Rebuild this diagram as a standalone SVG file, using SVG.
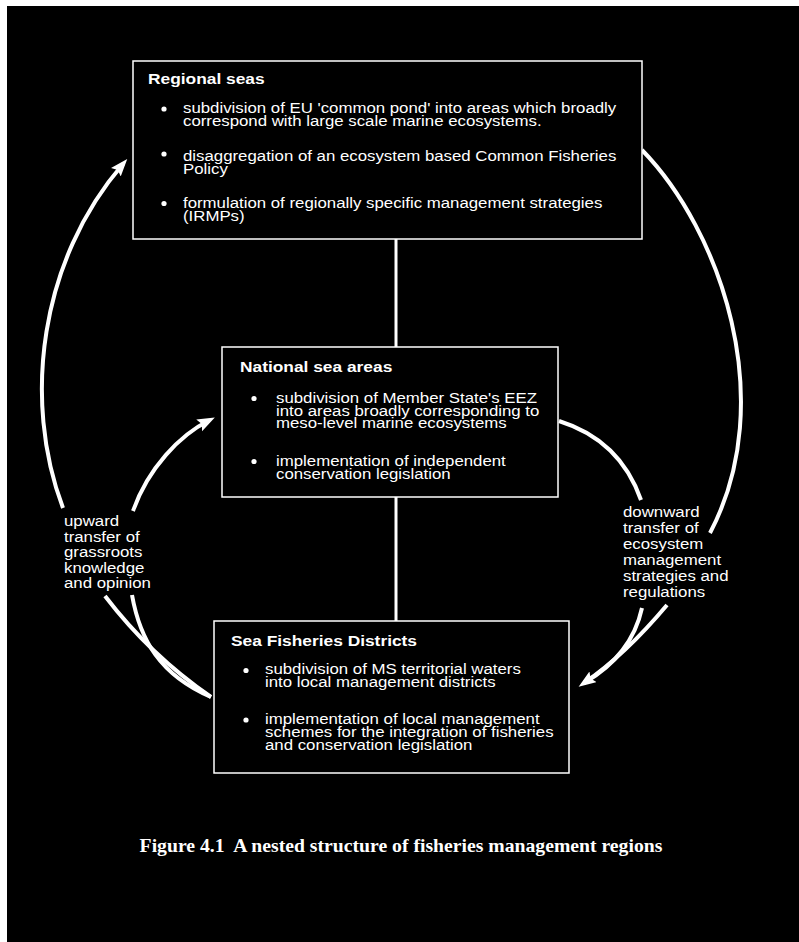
<svg xmlns="http://www.w3.org/2000/svg" width="799" height="942" viewBox="0 0 799 942">
<style>
.box{fill:#000;stroke:#fff;stroke-width:1.5}
.t{fill:#fff;font-family:"Liberation Sans",Arial,Helvetica,sans-serif;font-size:15.5px}
.h{fill:#fff;font-family:"Liberation Sans",Arial,Helvetica,sans-serif;font-size:15.5px;font-weight:bold}
.dot{fill:#fff}
.arc{fill:none;stroke:#fff;stroke-width:4}
.ln{stroke:#fff;stroke-width:3}
.cap{fill:#fff;font-family:"Liberation Serif","Times New Roman",serif;font-size:19.7px;font-weight:bold}
</style>
<defs>
<marker id="ah" markerUnits="userSpaceOnUse" markerWidth="20" markerHeight="14" refX="11" refY="6.5" orient="auto">
<path d="M0,0 L17.5,6.5 L0,13 L3,6.5 Z" fill="#fff"/>
</marker>
</defs>
<rect x="0" y="0" width="799" height="942" fill="#fff"/>
<rect x="7" y="6" width="792" height="936" fill="#000"/>

<g id="connectors">
<line class="ln" x1="396" y1="239" x2="396" y2="347"/>
<line class="ln" x1="396" y1="497" x2="396" y2="621"/>
<path class="arc" d="M63,508 C22,400 40,260 123,164" marker-end="url(#ah)"/>
<path class="arc" d="M105,596 Q150,655 211,697"/>
<path class="arc" d="M133,511 C148,468 180,435 209,420.5" marker-end="url(#ah)"/>
<path class="arc" d="M132,595 C140,640 160,675 211,697"/>
<path class="arc" d="M642,150 C720,230 780,400 710,533"/>
<path class="arc" d="M559,421 Q620,440 641,500"/>
<path class="arc" d="M642,608 C635,640 615,665 584,683"/>
<path class="arc" d="M667,605 Q625,655 584,683" marker-end="url(#ah)"/>
</g>

<g id="regional-seas">
<rect class="box" x="133" y="61" width="509" height="178"/>
<text class="h" transform="translate(148,0) scale(1.12,1)" y="84">Regional seas</text>
<circle class="dot" cx="164" cy="109" r="2.6"/>
<circle class="dot" cx="164" cy="154" r="2.6"/>
<circle class="dot" cx="164" cy="203.5" r="2.6"/>
<text class="t" transform="translate(183,0) scale(1.085,1)">
<tspan x="0" y="113.3">subdivision of EU 'common pond' into areas which broadly</tspan>
<tspan x="0" y="126">correspond with large scale marine ecosystems.</tspan>
<tspan x="0" y="161">disaggregation of an ecosystem based Common Fisheries</tspan>
<tspan x="0" y="173.8">Policy</tspan>
<tspan x="0" y="208.3">formulation of regionally specific management strategies</tspan>
<tspan x="0" y="221">(IRMPs)</tspan>
</text>
</g>

<g id="national-sea-areas">
<rect class="box" x="222" y="347" width="336" height="150"/>
<text class="h" transform="translate(240,0) scale(1.12,1)" y="372.5">National sea areas</text>
<circle class="dot" cx="254" cy="398.5" r="2.6"/>
<circle class="dot" cx="254" cy="461.5" r="2.6"/>
<text class="t" transform="translate(276,0) scale(1.085,1)">
<tspan x="0" y="403">subdivision of Member State's EEZ</tspan>
<tspan x="0" y="415.7">into areas broadly corresponding to</tspan>
<tspan x="0" y="428.4">meso-level marine ecosystems</tspan>
<tspan x="0" y="466">implementation of independent</tspan>
<tspan x="0" y="478.7">conservation legislation</tspan>
</text>
</g>

<g id="sea-fisheries-districts">
<rect class="box" x="214" y="621" width="355" height="152"/>
<text class="h" transform="translate(231,0) scale(1.12,1)" y="646.5">Sea Fisheries Districts</text>
<circle class="dot" cx="246" cy="670.5" r="2.6"/>
<circle class="dot" cx="246" cy="720" r="2.6"/>
<text class="t" transform="translate(265,0) scale(1.085,1)">
<tspan x="0" y="674.5">subdivision of MS territorial waters</tspan>
<tspan x="0" y="687.2">into local management districts</tspan>
<tspan x="0" y="724.5">implementation of local management</tspan>
<tspan x="0" y="737.2">schemes for the integration of fisheries</tspan>
<tspan x="0" y="749.9">and conservation legislation</tspan>
</text>
</g>

<g id="label-upward">
<text class="t" transform="translate(64,0) scale(1.085,1)">
<tspan x="0" y="526.5">upward</tspan>
<tspan x="0" y="542">transfer of</tspan>
<tspan x="0" y="557.5">grassroots</tspan>
<tspan x="0" y="573">knowledge</tspan>
<tspan x="0" y="588.5">and opinion</tspan>
</text>
</g>

<g id="label-downward">
<text class="t" transform="translate(623,0) scale(1.085,1)">
<tspan x="0" y="517.5">downward</tspan>
<tspan x="0" y="533.5">transfer of</tspan>
<tspan x="0" y="549.5">ecosystem</tspan>
<tspan x="0" y="565.5">management</tspan>
<tspan x="0" y="581.5">strategies and</tspan>
<tspan x="0" y="597.5">regulations</tspan>
</text>
</g>

<g id="caption">
<text class="cap" x="401" y="852" text-anchor="middle">Figure 4.1&#160; A nested structure of fisheries management regions</text>
</g>
</svg>
